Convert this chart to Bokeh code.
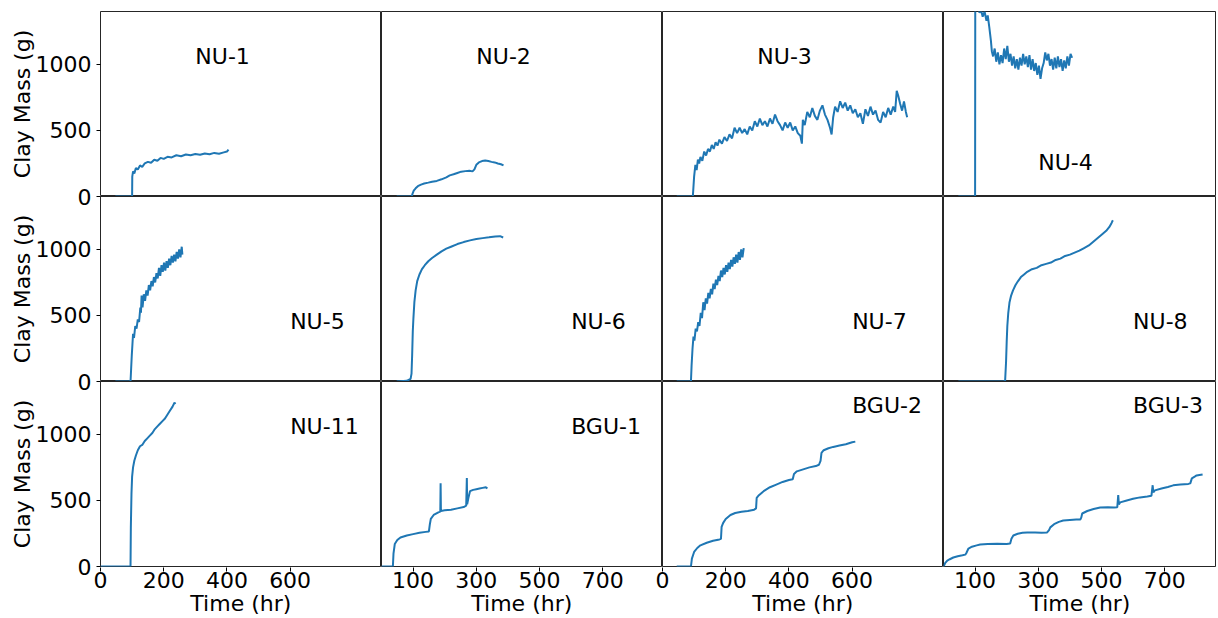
from bokeh.plotting import figure
from bokeh.models import FixedTicker, Range1d, Label, GridBox, LinearAxis
from bokeh.embed import file_html
from bokeh.resources import INLINE

# ---------------- data (time in hr, clay mass in g) ----------------
nu1_time = [47, 100, 100.5, 103, 107, 112, 118, 125, 132, 140, 150, 160, 170, 180, 190, 200, 212, 225, 240, 255,
            270, 285, 300, 315, 330, 345, 360, 375, 390, 400, 405]
nu1_mass = [0, 0, 150, 190, 175, 215, 205, 235, 225, 250, 262, 255, 278, 270, 292, 285, 300, 296, 312, 305,
            318, 312, 322, 316, 326, 320, 330, 324, 334, 340, 355]

nu2_time = [48, 96, 98, 102, 108, 115, 125, 135, 148, 160, 175, 190, 205, 216, 228, 240, 252, 265, 278, 288,
            294, 300, 308, 318, 328, 338, 348, 358, 368, 378, 386]
nu2_mass = [0, 0, 20, 45, 62, 78, 90, 98, 105, 112, 118, 130, 145, 160, 168, 178, 188, 192, 195, 190,
            205, 240, 258, 268, 272, 268, 262, 258, 250, 244, 235]

nu3_time = [45, 96, 100, 104, 108, 112, 116, 120, 126, 132, 138, 144, 150, 156, 162, 168, 174, 180, 188, 196,
            204, 212, 220, 228, 236, 244, 252, 260, 268, 276, 284, 292, 300, 308, 316, 324, 332, 340, 348, 356,
            364, 372, 380, 388, 396, 404, 412, 420, 428, 436, 441, 444, 450, 458, 466, 474, 482, 490, 498, 506,
            514, 522, 530, 535, 540, 546, 554, 562, 570, 578, 586, 594, 602, 610, 618, 626, 634, 642, 650, 658,
            666, 674, 682, 690, 698, 706, 714, 722, 730, 736, 741, 746, 752, 758, 764, 770, 774]
nu3_mass = [0, 0, 150, 240, 200, 280, 250, 300, 270, 340, 310, 360, 340, 390, 360, 410, 385, 430, 400, 450,
            420, 470, 440, 520, 480, 520, 480, 510, 470, 530, 500, 570, 530, 590, 540, 570, 530, 590, 550, 620,
            570, 540, 500, 560, 520, 560, 500, 530, 480, 460, 400, 580, 540, 640, 600, 670, 610, 580, 650, 690,
            620, 580, 520, 470, 600, 680, 640, 720, 670, 710, 650, 690, 630, 660, 600, 630, 550, 660, 610, 680,
            620, 650, 580, 560, 640, 600, 670, 620, 680, 640, 800, 760, 700, 650, 720, 640, 600]

nu4_time = [47, 100, 100.5, 102, 108, 114, 118, 124, 130, 136, 140, 145, 150, 153, 157, 162, 167, 172, 177, 182,
            187, 192, 197, 202, 207, 212, 217, 222, 227, 232, 237, 242, 247, 252, 257, 262, 267, 272, 277, 282,
            287, 292, 297, 302, 307, 312, 317, 322, 327, 332, 337, 342, 347, 352, 357, 362, 367, 372, 377, 382,
            387, 392, 397, 402, 407]
nu4_mass = [0, 0, 1450, 1430, 1450, 1390, 1420, 1360, 1400, 1330, 1370, 1280, 1180, 1100, 1060, 1120, 1020, 1090, 1000, 1070,
            1010, 1120, 1040, 1140, 1020, 1080, 990, 1060, 970, 1040, 960, 1050, 990, 1080, 1000, 1060, 980, 1070, 960, 1040,
            950, 1010, 920, 990, 890, 970, 1010, 1090, 1030, 1080, 990, 1040, 960, 1050, 970, 1060, 980, 1040, 950, 1030,
            970, 1060, 990, 1080, 1050]

nu5_time = [47, 95, 97, 99, 101, 103, 106, 110, 114, 118, 122, 126, 128, 130, 133, 137, 141, 145, 149, 153,
            157, 161, 165, 169, 173, 177, 181, 185, 189, 193, 197, 201, 205, 209, 213, 217, 221, 225, 229, 233,
            237, 241, 245, 249, 253, 257, 259]
nu5_mass = [0, 0, 100, 200, 280, 360, 330, 420, 400, 470, 450, 560, 520, 650, 560, 660, 610, 690, 650, 730,
            690, 760, 720, 790, 750, 820, 780, 860, 800, 880, 830, 900, 840, 910, 860, 930, 880, 950, 900, 960,
            910, 980, 930, 1000, 940, 1020, 960]

nu6_time = [48, 80, 92, 95, 97, 99, 101, 104, 108, 113, 120, 128, 137, 148, 160, 175, 190, 205, 220, 240,
            260, 280, 300, 320, 340, 360, 375, 385]
nu6_mass = [0, 5, 20, 60, 200, 380, 480, 600, 690, 760, 810, 850, 880, 910, 935, 960, 985, 1005, 1020, 1040,
            1055, 1068, 1078, 1085, 1091, 1098, 1100, 1090]

nu7_time = [45, 90, 92, 95, 98, 101, 105, 109, 113, 117, 121, 125, 129, 133, 137, 141, 145, 149, 153, 157,
            161, 165, 169, 173, 177, 181, 185, 189, 193, 197, 201, 205, 209, 213, 217, 221, 225, 229, 233, 237,
            241, 245, 249, 253, 257]
nu7_mass = [0, 0, 120, 250, 340, 310, 400, 380, 450, 420, 520, 480, 600, 540, 630, 590, 670, 630, 700, 660,
            740, 700, 770, 730, 800, 760, 840, 790, 860, 810, 880, 830, 900, 850, 920, 870, 940, 890, 960, 900,
            980, 920, 1000, 940, 1010]

nu8_time = [47, 190, 195, 198, 200, 202, 205, 209, 214, 220, 228, 236, 245, 255, 265, 280, 295, 310, 325, 340,
            355, 370, 385, 400, 415, 430, 445, 460, 475, 490, 505, 515, 525, 532, 536]
nu8_mass = [0, 0, 5, 150, 300, 420, 520, 600, 650, 690, 730, 760, 790, 810, 830, 850, 860, 880, 890, 900,
            920, 930, 950, 960, 975, 990, 1010, 1030, 1060, 1090, 1120, 1140, 1170, 1200, 1220]

nu11_time = [0, 95, 96, 98, 100, 103, 107, 112, 118, 125, 132, 140, 148, 156, 164, 172, 180, 188, 196, 204,
             212, 220, 228, 234, 237]
nu11_mass = [0, 0, 300, 550, 680, 750, 800, 840, 880, 910, 920, 950, 970, 990, 1010, 1040, 1060, 1080, 1100, 1120,
             1150, 1180, 1210, 1240, 1230]

bgu1_time = [0, 36, 38, 42, 50, 60, 80, 100, 120, 140, 150, 153, 156, 165, 180, 186, 187, 188, 200, 220,
             240, 260, 268, 270, 271, 275, 280, 290, 300, 310, 320, 330, 335]
bgu1_mass = [0, 0, 100, 170, 200, 220, 235, 245, 255, 262, 265, 320, 360, 390, 410, 415, 630, 420, 425, 430,
             440, 450, 460, 670, 470, 520, 570, 580, 585, 590, 595, 600, 590]

bgu2_time = [45, 90, 93, 100, 110, 120, 140, 160, 180, 185, 187, 192, 200, 215, 230, 250, 270, 290, 296, 298,
             305, 320, 340, 360, 380, 400, 412, 416, 425, 445, 465, 485, 495, 500, 503, 510, 525, 540, 560, 580,
             600, 610]
bgu2_mass = [0, 0, 60, 110, 140, 160, 180, 195, 205, 210, 300, 330, 360, 390, 405, 415, 420, 430, 440, 520,
             540, 570, 600, 620, 640, 655, 660, 700, 720, 735, 750, 760, 770, 800, 860, 880, 895, 905, 915, 925,
             940, 945]

bgu3_time = [0, 5, 12, 20, 31, 45, 60, 69, 72, 79, 90, 105, 116, 140, 170, 200, 211, 215, 221, 235,
             250, 265, 290, 310, 328, 334, 338, 350, 365, 379, 400, 420, 433, 436, 439, 455, 475, 496, 520, 540,
             550, 553, 555, 559, 580, 600, 622, 645, 658, 662, 664, 669, 690, 710, 727, 750, 775, 781, 786, 795,
             801, 810, 820]
bgu3_mass = [0, 25, 45, 55, 68, 78, 85, 90, 100, 136, 150, 160, 167, 170, 172, 170, 174, 210, 235, 248,
             255, 258, 258, 256, 258, 275, 296, 320, 338, 348, 352, 355, 356, 370, 401, 420, 435, 447, 448, 447,
             449, 540, 470, 485, 500, 512, 523, 530, 535, 615, 560, 576, 590, 602, 614, 620, 625, 629, 667, 680,
             689, 693, 697]

panel_names = ["NU-1", "NU-2", "NU-3", "NU-4",
               "NU-5", "NU-6", "NU-7", "NU-8",
               "NU-11", "BGU-1", "BGU-2", "BGU-3"]
label_x = [300, 300, 300, 300, 600, 600, 600, 600, 600, 600, 600, 600]
label_y = [1060, 1060, 1060, 261, 456, 456, 456, 456, 1060, 1060, 1222, 1222]   # vertical centre of each name

col_xticks = [[0, 200, 400, 600], [100, 300, 500, 700], [0, 200, 400, 600], [100, 300, 500, 700]]
y_ticks = [0, 500, 1000]
x_end = [889, 889, 889, 864]
y_end = 1400
x_title = "Time (hr)"
y_title = "Clay Mass (g)"

series = [(nu1_time, nu1_mass), (nu2_time, nu2_mass), (nu3_time, nu3_mass), (nu4_time, nu4_mass),
          (nu5_time, nu5_mass), (nu6_time, nu6_mass), (nu7_time, nu7_mass), (nu8_time, nu8_mass),
          (nu11_time, nu11_mass), (bgu1_time, bgu1_mass), (bgu2_time, bgu2_mass), (bgu3_time, bgu3_mass)]

# ---------------- styling / layout ----------------
FONT = "DejaVu Sans"
BLUE = "#1f77b4"
frame_w = [281, 281, 281, 273]
frame_h = 185
TOP = 11          # space above the first row of panels
Y_STRIP = 92      # strip on the left that holds y tick labels and y titles
TICK_GAP = 8      # room for the y tick marks left of the first panel column
XT_B = 50         # border below the shared x strip (tick labels + x titles)
N_ROWS = 3


def text_style(ax):
    ax.major_label_text_font = FONT
    ax.major_label_text_font_size = "22px"
    ax.major_label_text_color = "black"
    ax.axis_label_text_font = FONT
    ax.axis_label_text_font_size = "22px"
    ax.axis_label_text_font_style = "normal"
    ax.axis_label_text_color = "black"
    ax.minor_tick_line_color = None
    ax.major_tick_line_color = "black"
    ax.axis_line_color = None


def bare(p):
    p.grid.visible = False
    p.outline_line_color = None
    p.background_fill_alpha = 0
    p.border_fill_alpha = 0


children = []

# --- 12 data panels ---
for r in range(N_ROWS):
    for c in range(4):
        i = r * 4 + c
        p = figure(frame_width=frame_w[c], frame_height=frame_h,
                   x_range=Range1d(0, x_end[c]), y_range=Range1d(0, y_end),
                   x_axis_location=None, y_axis_location="left" if c == 0 else None,
                   output_backend="svg", toolbar_location=None,
                   min_border_left=TICK_GAP if c == 0 else 0, min_border_right=0,
                   min_border_top=TOP if r == 0 else 0,
                   min_border_bottom=1 if r == N_ROWS - 1 else 0)
        p.grid.visible = False
        p.outline_line_color = "black"
        p.outline_line_width = 1
        p.outline_line_alpha = 0.85
        t, m = series[i]
        p.line(t, m, line_color=BLUE, line_width=2)
        p.add_layout(Label(x=label_x[i], y=label_y[i], text=panel_names[i], text_font=FONT,
                           text_font_size="22px", text_color="black",
                           text_baseline="middle", text_align="left"))
        if c == 0:
            # tick marks only; the tick labels live in the shared strip on the left
            ax = p.yaxis[0]
            ticks = list(y_ticks) + ([y_end] if r > 0 else [])
            ax.ticker = FixedTicker(ticks=ticks)
            ax.major_label_overrides = {tk: "" for tk in ticks}
            ax.major_label_standoff = 0
            ax.major_tick_in = 0
            ax.major_tick_out = 4
            ax.major_tick_line_color = "black"
            ax.minor_tick_line_color = None
            ax.axis_line_color = None
        children.append((p, r, c + 1))

# --- left strip: y tick labels of every row, and one y title per row ---
ytick_pos, ytick_txt = [], {}
ytitle_pos, ytitle_txt = [], {}
for r in range(N_ROWS):
    base = (N_ROWS - 1 - r) * y_end
    for tk in y_ticks:
        ytick_pos.append(base + tk)
        ytick_txt[base + tk] = str(tk)
    ytitle_pos.append(base + y_end // 2)
    ytitle_txt[base + y_end // 2] = y_title
yt = figure(frame_width=1, frame_height=N_ROWS * frame_h, x_range=Range1d(0, 1),
            y_range=Range1d(0, N_ROWS * y_end),
            x_axis_location=None, y_axis_location="left",
            output_backend="svg", toolbar_location=None,
            min_border_left=Y_STRIP - 1, min_border_right=0,
            min_border_top=TOP, min_border_bottom=1 + 1 + XT_B)
bare(yt)
ax = yt.yaxis[0]
ax.ticker = FixedTicker(ticks=ytick_pos)
ax.major_label_overrides = ytick_txt
ax.major_tick_in = 0
ax.major_tick_out = 0
ax.major_label_standoff = 0
text_style(ax)
ay = LinearAxis(ticker=FixedTicker(ticks=ytitle_pos), major_label_overrides=ytitle_txt,
                major_label_orientation="parallel")
ay.major_tick_in = 0
ay.major_tick_out = 0
ay.major_label_standoff = -2
text_style(ay)
yt.add_layout(ay, "left")
children.append((yt, 0, 0, N_ROWS + 1, 1))

# --- bottom strip: x tick labels of every column, and one x title per column ---
offsets = []
acc = 0
for c in range(4):
    offsets.append(acc)
    acc += x_end[c]
xtick_pos, xtick_txt = [], {}
xtitle_pos, xtitle_txt = [], {}
for c in range(4):
    for tk in col_xticks[c]:
        xtick_pos.append(offsets[c] + tk)
        xtick_txt[offsets[c] + tk] = str(tk)
    xtitle_pos.append(offsets[c] + x_end[c] // 2)
    xtitle_txt[offsets[c] + x_end[c] // 2] = x_title
xt = figure(frame_width=sum(frame_w), frame_height=1, x_range=Range1d(0, acc), y_range=Range1d(0, 1),
            x_axis_location="below", y_axis_location=None,
            output_backend="svg", toolbar_location=None,
            min_border_left=TICK_GAP, min_border_right=0, min_border_top=0, min_border_bottom=XT_B)
bare(xt)
ax = xt.xaxis[0]
ax.ticker = FixedTicker(ticks=xtick_pos)
ax.major_label_overrides = xtick_txt
ax.major_tick_in = 1
ax.major_tick_out = 3
ax.major_label_standoff = 0
text_style(ax)
ax2 = LinearAxis(ticker=FixedTicker(ticks=xtitle_pos), major_label_overrides=xtitle_txt)
ax2.major_tick_in = 0
ax2.major_tick_out = 0
ax2.major_label_standoff = 0
text_style(ax2)
xt.add_layout(ax2, "below")
children.append((xt, N_ROWS, 1, 1, 4))

grid = GridBox(children=children, spacing=0)

open("out.html", "w").write(file_html(grid, INLINE))
